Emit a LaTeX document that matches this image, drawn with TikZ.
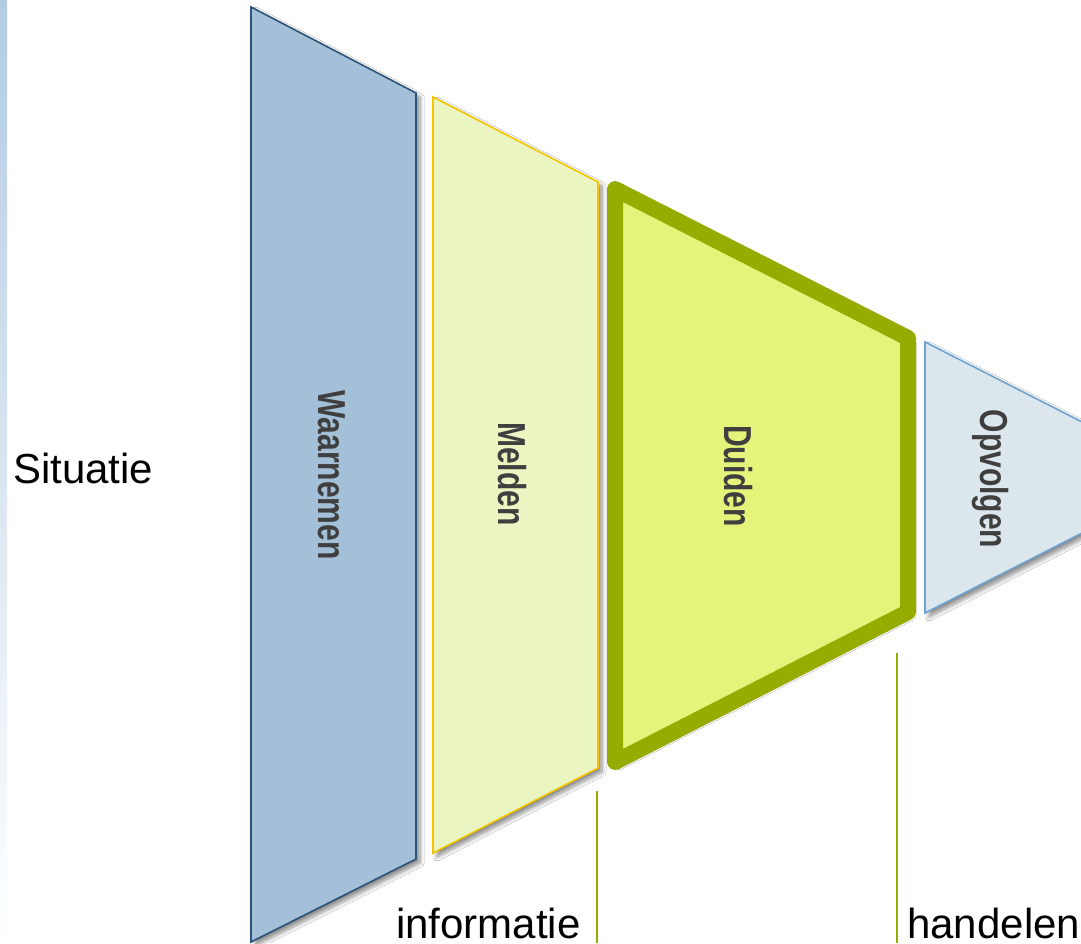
\documentclass[tikz,border=0pt]{standalone}
\usepackage{fontspec}
\setmainfont{Liberation Sans}
\usetikzlibrary{shadows.blur}
\definecolor{wfill}{HTML}{A4C0D8}
\definecolor{wline}{HTML}{2D5478}
\definecolor{mfill}{HTML}{EBF5C2}
\definecolor{mline}{HTML}{F5C400}
\definecolor{dfill}{HTML}{E5F37A}
\definecolor{dline}{HTML}{97AC00}
\definecolor{ofill}{HTML}{DCE6ED}
\definecolor{oline}{HTML}{6FA3D2}
\definecolor{labc}{HTML}{3F3F3F}
\definecolor{stripc}{HTML}{B3CCE2}
\begin{document}
\begin{tikzpicture}[x=0.75pt,y=-0.75pt,
  stage/.style={blur shadow={shadow xshift=3pt,shadow yshift=-3pt,shadow opacity=45,shadow blur steps=8,shadow blur radius=3pt}},
  stagelab/.style={rotate=-90, inner sep=0pt, text=labc, font=\bfseries\fontsize{29.25}{30}\selectfont},
  caption/.style={inner sep=0pt, font=\fontsize{31.5}{32}\selectfont, text=black},
  marker/.style={draw=dline, line width=1.5pt}]
\useasboundingbox (0,0) rectangle (1081,943);
\fill[white] (0,0) rectangle (1081,943);
\shade[top color=stripc, bottom color=white] (0,0) rectangle (7,943);
\begin{scope}
\clip (0,0) rectangle (1081,943);
\draw[stage, fill=wfill, draw=wline, line width=1.2pt] (251,7) -- (416,93) -- (416,859) -- (251,942) -- cycle;
\draw[stage, fill=mfill, draw=mline, line width=1.2pt] (433,97) -- (598,182) -- (598,768) -- (433,853) -- cycle;
\draw[stage, fill=ofill, draw=oline, line width=1.2pt] (925,342) -- (1191,477.5) -- (925,613) -- cycle;
\draw[stage, fill=dfill, draw=dline, line width=12pt, line join=round] (615,189) -- (908,338) -- (908,612) -- (615,762) -- cycle;
\end{scope}
\node[stagelab] (w) at (332,475) {\scalebox{0.77}[1]{Waarnemen}};
\node[stagelab] (m) at (512,474) {\scalebox{0.77}[1]{Melden}};
\node[stagelab] (d) at (738,476) {\scalebox{0.77}[1]{Duiden}};
\node[stagelab] (o) at (990.5,479) {\scalebox{0.77}[1]{Opvolgen}};
\node[caption, anchor=base west] (sit) at (13,483) {Situatie};
\node[caption, anchor=base west] (inf) at (396,938) {informatie};
\node[caption, anchor=base west] (han) at (907,938) {handelen};
\coordinate (i1) at (597,791);
\coordinate (i2) at (597,943);
\coordinate (h1) at (897,653);
\coordinate (h2) at (897,943);
\draw[marker] (i1) -- (i2);
\draw[marker] (h1) -- (h2);
\end{tikzpicture}
\end{document}
